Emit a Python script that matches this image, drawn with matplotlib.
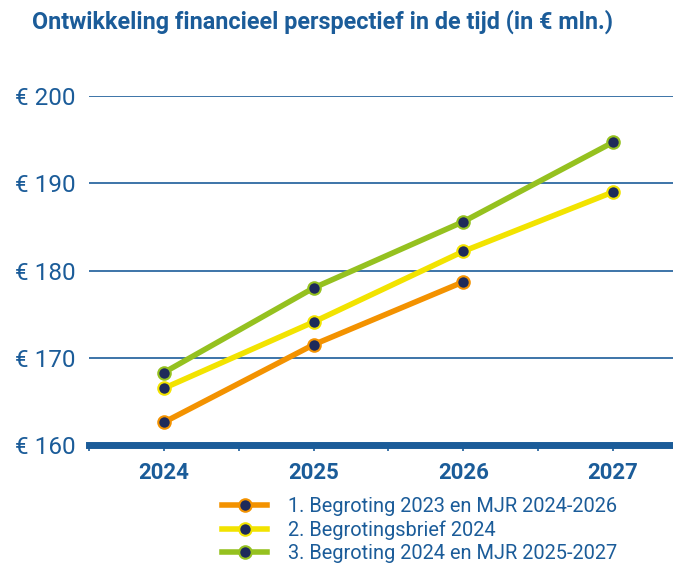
import matplotlib
matplotlib.use("Agg")
import matplotlib.pyplot as plt
from matplotlib.lines import Line2D

years = ["2024", "2025", "2026", "2027"]
series_names = ["1. Begroting 2023 en MJR 2024-2026",
                "2. Begrotingsbrief 2024",
                "3. Begroting 2024 en MJR 2025-2027"]
orange_vals = [162.6, 171.5, 178.7]
yellow_vals = [166.5, 174.1, 182.2, 189.0]
green_vals = [168.3, 178.0, 185.6, 194.7]
y_ticks = [160, 170, 180, 190, 200]
y_labels = ["€ 160", "€ 170", "€ 180", "€ 190", "€ 200"]

BLUE = "#1b5c99"
NAVY = "#1e2a5a"
colors = ["#f39200", "#f2e300", "#95c11f"]

plt.rcParams['font.family'] = ['Roboto', 'DejaVu Sans']

fig = plt.figure(figsize=(6.73, 5.63), dpi=100)
H = 563
ax = fig.add_axes([89/673, (H-445)/H, 1-89/673, (445-96)/H])

all_vals = [orange_vals, yellow_vals, green_vals]
for vals, c in zip(all_vals, colors):
    xs = list(range(len(vals)))
    ax.plot(xs, vals, color=c, lw=4, solid_capstyle='butt', zorder=3)
    ax.plot(xs, vals, ls='none', marker='o', ms=9, mfc=NAVY, mec=c, mew=1.5, zorder=4)

ax.set_ylim(160, 200)
ax.set_xlim(-0.5, 3.4)
ax.set_yticks(y_ticks)
ax.set_yticklabels(y_labels, fontsize=17.5, color=BLUE)
ax.set_xticks(range(len(years)))
ax.set_xticklabels(years, fontsize=16, fontweight='bold', color=BLUE)
ax.set_xticks([-0.5, 0.5, 1.5, 2.5], minor=True)
ax.tick_params(axis='y', length=0, pad=9.5)
ax.tick_params(axis='x', which='both', direction='out', length=4, width=1.2, color=BLUE, pad=8)
ax.yaxis.grid(True, color=BLUE, lw=1.2)
ax.set_axisbelow(True)
for s in ['top', 'right', 'left']:
    ax.spines[s].set_visible(False)
ax.spines['bottom'].set_color(BLUE)
ax.spines['bottom'].set_linewidth(5)
ax.spines['bottom'].set_zorder(5)
for lab in ax.get_yticklabels():
    lab.set_horizontalalignment('right')

fig.text(32/673, 1-22/H, "Ontwikkeling financieel perspectief in de tijd (in € mln.)",
         fontsize=16.8, fontweight='bold', color=BLUE, va='center', ha='left')

handles = [Line2D([0], [0], color=c, lw=4, marker='o', ms=9, mfc=NAVY, mec=c, mew=1.5)
           for c in colors]
leg = fig.legend(handles, series_names, loc='upper left', bbox_to_anchor=(222/673, 1-497/H),
                 frameon=False, fontsize=14.4, labelcolor=BLUE, handlelength=2.25,
                 handletextpad=1.05, labelspacing=0.22, borderpad=0, borderaxespad=0)

fig.savefig("out.png", dpi=100)
